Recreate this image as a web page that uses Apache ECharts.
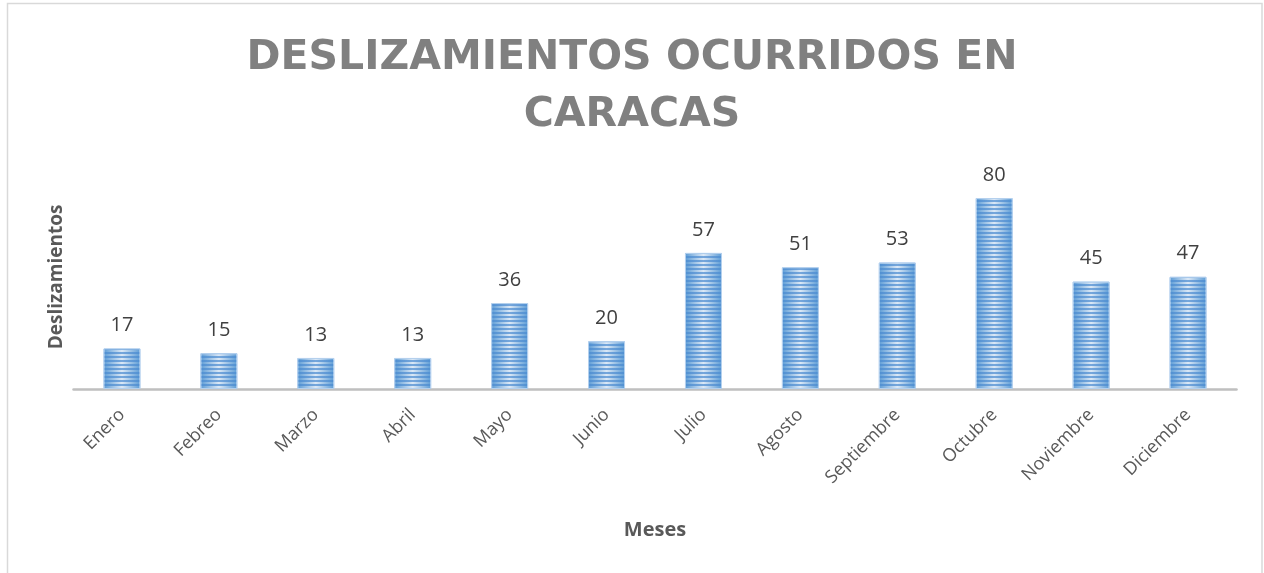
<!DOCTYPE html>
<html>
<head>
<meta charset="utf-8">
<script src="https://cdn.jsdelivr.net/npm/echarts@6/dist/echarts.min.js"></script>
<style>
  html, body { margin: 0; padding: 0; background: #ffffff; }
  #chart { width: 1264px; height: 573px; }
</style>
</head>
<body>
<div id="chart"></div>
<script>
// Monthly landslide counts in Caracas
const months = ['Enero', 'Febreo', 'Marzo', 'Abril', 'Mayo', 'Junio', 'Julio', 'Agosto', 'Septiembre', 'Octubre', 'Noviembre', 'Diciembre'];
const landslides = [17, 15, 13, 13, 36, 20, 57, 51, 53, 80, 45, 47];
const chartTitle = 'DESLIZAMIENTOS OCURRIDOS EN\nCARACAS';
const xTitle = 'Meses';
const yTitle = 'Deslizamientos';

const chart = echarts.init(document.getElementById('chart'), null, { renderer: 'canvas' });

// Horizontal blue gradient, lighter in the middle of each bar
const barFill = {
  type: 'linear', x: 0, y: 0, x2: 1, y2: 0,
  colorStops: [
    { offset: 0, color: '#5b9bd5' },
    { offset: 0.5, color: '#dbe8f6' },
    { offset: 1, color: '#5b9bd5' }
  ]
};

chart.setOption({
  animation: false,
  title: {
    text: chartTitle,
    left: 'center',
    top: 25,
    textStyle: {
      fontFamily: 'DejaVu Sans',
      fontWeight: 'bold',
      fontSize: 41,
      lineHeight: 57,
      color: '#808080'
    }
  },
  grid: { left: 73.5, right: 1264 - 1236.5, top: 198, bottom: 573 - 389, containLabel: false },
  xAxis: {
    type: 'category',
    data: months,
    axisLine: { show: true, lineStyle: { color: '#bfbfbf', width: 2.5 } },
    axisTick: { show: false },
    axisLabel: {
      rotate: 45,
      margin: 23,
      fontFamily: 'Open Sans',
      fontSize: 18,
      color: '#595959',
      interval: 0
    },
    name: xTitle,
    nameLocation: 'middle',
    nameGap: 131,
    nameTextStyle: { fontFamily: 'Open Sans', fontWeight: 'bold', fontSize: 20, color: '#595959' }
  },
  yAxis: {
    type: 'value',
    min: 0,
    max: 80,
    show: false
  },
  graphic: [
    {
      type: 'rect',
      shape: { x: 7.5, y: 3.5, width: 1254.5, height: 600 },
      style: { fill: 'none', stroke: '#d9d9d9', lineWidth: 1.5 },
      silent: true
    },
    {
      type: 'text',
      x: 57,
      y: 277,
      rotation: Math.PI / 2,
      style: {
        text: yTitle,
        fontFamily: 'Open Sans',
        fontWeight: 'bold',
        fontSize: 19,
        fill: '#595959',
        align: 'center',
        verticalAlign: 'middle'
      }
    }
  ],
  series: [{
    type: 'bar',
    data: landslides,
    barWidth: 37,
    itemStyle: {
      color: barFill,
      borderColor: '#b4d0ee',
      borderWidth: 1,
      decal: {
        symbol: 'rect',
        symbolSize: 1,
        dashArrayX: [[1, 0]],
        dashArrayY: [2, 2],
        color: 'rgba(74, 138, 208, 0.7)',
        rotation: 0
      }
    },
    label: {
      show: true,
      position: 'top',
      distance: 13,
      fontFamily: 'Open Sans',
      fontSize: 20,
      color: '#404040'
    }
  }]
});
</script>
</body>
</html>
